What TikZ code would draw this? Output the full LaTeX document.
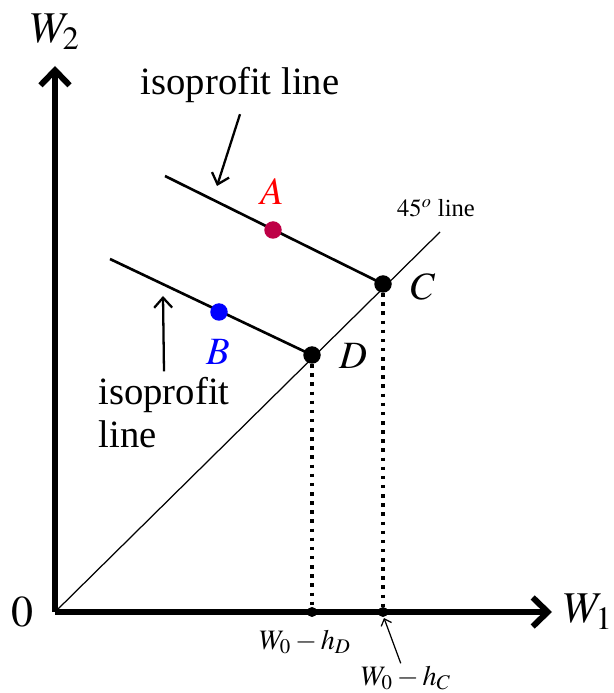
\documentclass[tikz,border=0pt]{standalone}
\usepackage{mathptmx}
\usepackage{fontspec}
\setmainfont{Liberation Serif}
\usetikzlibrary{positioning, calc, arrows.meta}
\definecolor{crimsonA}{RGB}{190,0,70}

\begin{document}
\begin{tikzpicture}[x=0.02cm, y=0.02cm, font=\fontsize{22}{24.5}\selectfont,
    axis/.style={line width=3.4pt, -{Straight Barb[length=0.3cm, width=0.58cm]}},
    iso/.style={line width=1.5pt},
    arr/.style={line width=1.3pt, -{Straight Barb[length=0.2cm, width=0.36cm]}},
    bigdot/.style={circle, fill, inner sep=0pt, minimum size=0.35cm},
    smalldot/.style={circle, fill, inner sep=0pt, minimum size=0.2cm},
    small/.style={font=\fontsize{14}{16}\selectfont},
    mid/.style={font=\fontsize{16}{18}\selectfont},
    big/.style={font=\fontsize{25}{28}\selectfont}]
  \useasboundingbox (-55,-81) rectangle (558,612);

  % Axes
  \coordinate (O) at (0,0);
  \coordinate (xend) at (497,0);
  \coordinate (yend) at (0,546);
  \draw[axis] (O) -- (xend);
  \draw[axis] (O) -- (yend);
  \node[big] (w1) at (533,0) {$W_1$};
  \node[big] (w2) at (0,580) {$W_2$};
  \node[big] (zero) at (-33,0) {$0$};

  % 45 gradi
  \coordinate (e45) at (385,380);
  \draw[line width=0.7pt] (O) -- (e45);
  \node[small] (l45) at (381,404) {$45^o$ line};

  % punti
  \node[bigdot] (C) at (328,328) {};
  \node[bigdot] (D) at (257,257) {};
  \node[smalldot] (pC) at (328,0) {};
  \node[smalldot] (pD) at (257,0) {};

  % rette isoprofitto
  \coordinate (u0) at (110,436);
  \coordinate (v0) at (55,353);
  \draw[iso] (u0) -- (C.center);
  \draw[iso] (v0) -- (D.center);
  \node[bigdot, crimsonA] (A) at (218,382) {};
  \node[bigdot, blue] (B) at (164,300) {};

  %tratteggi
  \draw[line width=2pt, dash pattern=on 2pt off 3.2pt] (C) -- (pC);
  \draw[line width=2pt, dash pattern=on 2pt off 3.2pt] (D) -- (pD);

  %label
  \node[red] (lA) at (217,420) {$A$};
  \node[blue] (lB) at (163,260) {$B$};
  \node (lC) at (368,325) {$C$};
  \node (lD) at (298,256) {$D$};
  \node[mid] (lhD) at (250,-30) {$W_0-h_D$};
  \node[mid] (lhC) at (351,-66) {$W_0-h_C$};
  \coordinate (thC) at (329,-6);
  \draw[line width=0.7pt, -{Straight Barb[length=0.12cm, width=0.22cm]}] ([xshift=-3pt, yshift=-2pt]lhC.north) -- (thC);

  \node (isoU) at (185,527) {isoprofit line};
  \coordinate (tipU) at (162,426);
  \draw[arr] ([yshift=-3pt]isoU.south) -- (tipU);

  \node[align=left] (isoL) at (109,199) {isoprofit\\line};
  \coordinate (tipL) at (108,316);
  \draw[arr] (isoL.north) -- (tipL);
\end{tikzpicture}
\end{document}
